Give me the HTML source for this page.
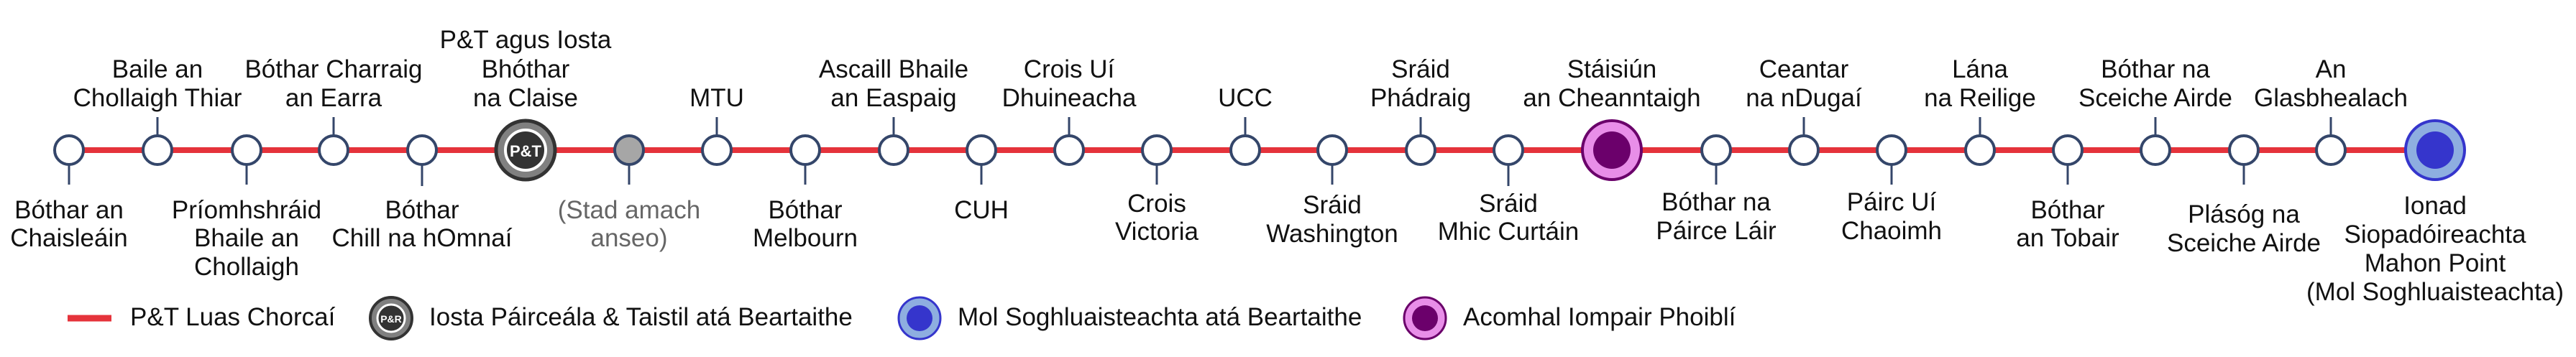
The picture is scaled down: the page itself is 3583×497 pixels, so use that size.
<!DOCTYPE html>
<html><head><meta charset="utf-8"><style>
html,body{margin:0;padding:0;background:#fff;}
svg{display:block;}
text{font-family:"Liberation Sans",sans-serif;font-size:35px;fill:#111;text-anchor:middle;}
.l{text-anchor:start;}
.g{fill:#666;}
</style></head><body>
<svg width="3583" height="497" viewBox="0 0 3583 497" xmlns="http://www.w3.org/2000/svg">
<line x1="96" y1="209" x2="3387" y2="209" stroke="#e5333b" stroke-width="8"/>
<g stroke="#34466a" stroke-width="3">
<line x1="219" y1="163" x2="219" y2="190"/><line x1="464" y1="163" x2="464" y2="190"/>
<line x1="997" y1="163" x2="997" y2="190"/><line x1="1243" y1="163" x2="1243" y2="190"/>
<line x1="1487" y1="163" x2="1487" y2="190"/><line x1="1732" y1="163" x2="1732" y2="190"/>
<line x1="1976" y1="163" x2="1976" y2="190"/><line x1="2509" y1="163" x2="2509" y2="190"/>
<line x1="2754" y1="163" x2="2754" y2="190"/><line x1="2998" y1="163" x2="2998" y2="190"/>
<line x1="3242" y1="163" x2="3242" y2="190"/>
<line x1="96" y1="228" x2="96" y2="257"/><line x1="343" y1="228" x2="343" y2="257"/>
<line x1="587" y1="228" x2="587" y2="259"/><line x1="875" y1="228" x2="875" y2="257"/>
<line x1="1120" y1="228" x2="1120" y2="257"/><line x1="1365" y1="228" x2="1365" y2="257"/>
<line x1="1609" y1="228" x2="1609" y2="257"/><line x1="1853" y1="228" x2="1853" y2="257"/>
<line x1="2098" y1="228" x2="2098" y2="259"/><line x1="2387" y1="228" x2="2387" y2="257"/>
<line x1="2631" y1="228" x2="2631" y2="257"/><line x1="2876" y1="228" x2="2876" y2="257"/>
<line x1="3121" y1="228" x2="3121" y2="257"/>
</g>
<g fill="#fff" stroke="#34466a" stroke-width="4">
<circle cx="96" cy="209" r="20"/><circle cx="219" cy="209" r="20"/><circle cx="343" cy="209" r="20"/>
<circle cx="464" cy="209" r="20"/><circle cx="587" cy="209" r="20"/>
<circle cx="875" cy="209" r="20" fill="#a6a6a6"/>
<circle cx="997" cy="209" r="20"/><circle cx="1120" cy="209" r="20"/><circle cx="1243" cy="209" r="20"/>
<circle cx="1365" cy="209" r="20"/><circle cx="1487" cy="209" r="20"/><circle cx="1609" cy="209" r="20"/>
<circle cx="1732" cy="209" r="20"/><circle cx="1853" cy="209" r="20"/><circle cx="1976" cy="209" r="20"/>
<circle cx="2098" cy="209" r="20"/><circle cx="2387" cy="209" r="20"/><circle cx="2509" cy="209" r="20"/>
<circle cx="2631" cy="209" r="20"/><circle cx="2754" cy="209" r="20"/><circle cx="2876" cy="209" r="20"/>
<circle cx="2998" cy="209" r="20"/><circle cx="3121" cy="209" r="20"/><circle cx="3242" cy="209" r="20"/>
</g>
<!-- P&T -->
<circle cx="731" cy="209" r="41" fill="#808080" stroke="#333" stroke-width="5"/>
<circle cx="731" cy="209" r="28" fill="#333" stroke="#fff" stroke-width="4"/>
<text x="731" y="218" style="font-size:22px;font-weight:bold;fill:#fff">P&amp;T</text>
<!-- Kent -->
<circle cx="2242" cy="209" r="41" fill="#e88ee8" stroke="#6a006a" stroke-width="4"/>
<circle cx="2242" cy="209" r="26" fill="#6b006b"/>
<!-- Mahon -->
<circle cx="3387" cy="209" r="41" fill="#8eaee0" stroke="#3535cc" stroke-width="4"/>
<circle cx="3387" cy="209" r="26" fill="#3535cc"/>

<!-- top labels -->
<text x="219" y="108">Baile an</text><text x="219" y="148">Chollaigh Thiar</text>
<text x="464" y="108">Bóthar Charraig</text><text x="464" y="148">an Earra</text>
<text x="731" y="67">P&amp;T agus Iosta</text><text x="731" y="108">Bhóthar</text><text x="731" y="148">na Claise</text>
<text x="997" y="148">MTU</text>
<text x="1243" y="108">Ascaill Bhaile</text><text x="1243" y="148">an Easpaig</text>
<text x="1487" y="108">Crois Uí</text><text x="1487" y="148">Dhuineacha</text>
<text x="1732" y="148">UCC</text>
<text x="1976" y="108">Sráid</text><text x="1976" y="148">Phádraig</text>
<text x="2242" y="108">Stáisiún</text><text x="2242" y="148">an Cheanntaigh</text>
<text x="2509" y="108">Ceantar</text><text x="2509" y="148">na nDugaí</text>
<text x="2754" y="108">Lána</text><text x="2754" y="148">na Reilige</text>
<text x="2998" y="108">Bóthar na</text><text x="2998" y="148">Sceiche Airde</text>
<text x="3242" y="108">An</text><text x="3242" y="148">Glasbhealach</text>

<!-- bottom labels -->
<text x="96" y="304">Bóthar an</text><text x="96" y="343">Chaisleáin</text>
<text x="343" y="304">Príomhshráid</text><text x="343" y="343">Bhaile an</text><text x="343" y="383">Chollaigh</text>
<text x="587" y="304">Bóthar</text><text x="587" y="343">Chill na hOmnaí</text>
<text class="g" x="875" y="304">(Stad amach</text><text class="g" x="875" y="343">anseo)</text>
<text x="1120" y="304">Bóthar</text><text x="1120" y="343">Melbourn</text>
<text x="1365" y="304">CUH</text>
<text x="1609" y="295">Crois</text><text x="1609" y="334">Victoria</text>
<text x="1853" y="297">Sráid</text><text x="1853" y="337">Washington</text>
<text x="2098" y="295">Sráid</text><text x="2098" y="334">Mhic Curtáin</text>
<text x="2387" y="293">Bóthar na</text><text x="2387" y="333">Páirce Láir</text>
<text x="2631" y="293">Páirc Uí</text><text x="2631" y="333">Chaoimh</text>
<text x="2876" y="304">Bóthar</text><text x="2876" y="343">an Tobair</text>
<text x="3121" y="310">Plásóg na</text><text x="3121" y="350">Sceiche Airde</text>
<text x="3387" y="298">Ionad</text><text x="3387" y="338">Siopadóireachta</text><text x="3387" y="378">Mahon Point</text><text x="3387" y="418">(Mol Soghluaisteachta)</text>

<!-- legend -->
<line x1="94" y1="443" x2="155" y2="443" stroke="#e5333b" stroke-width="9"/>
<text class="l" x="181" y="453">P&amp;T Luas Chorcaí</text>
<circle cx="544" cy="443" r="29" fill="#808080" stroke="#333" stroke-width="4"/>
<circle cx="544" cy="443" r="19" fill="#333" stroke="#fff" stroke-width="3"/>
<text x="544" y="449" style="font-size:14px;font-weight:bold;fill:#fff">P&amp;R</text>
<text class="l" x="597" y="453">Iosta Páirceála &amp; Taistil atá Beartaithe</text>
<circle cx="1279" cy="443" r="29" fill="#8eaee0" stroke="#3535cc" stroke-width="3"/>
<circle cx="1279" cy="443" r="18" fill="#3535cc"/>
<text class="l" x="1332" y="453">Mol Soghluaisteachta atá Beartaithe</text>
<circle cx="1982" cy="443" r="29" fill="#e88ee8" stroke="#6a006a" stroke-width="3"/>
<circle cx="1982" cy="443" r="18" fill="#6b006b"/>
<text class="l" x="2035" y="453">Acomhal Iompair Phoiblí</text>
</svg>
</body></html>
